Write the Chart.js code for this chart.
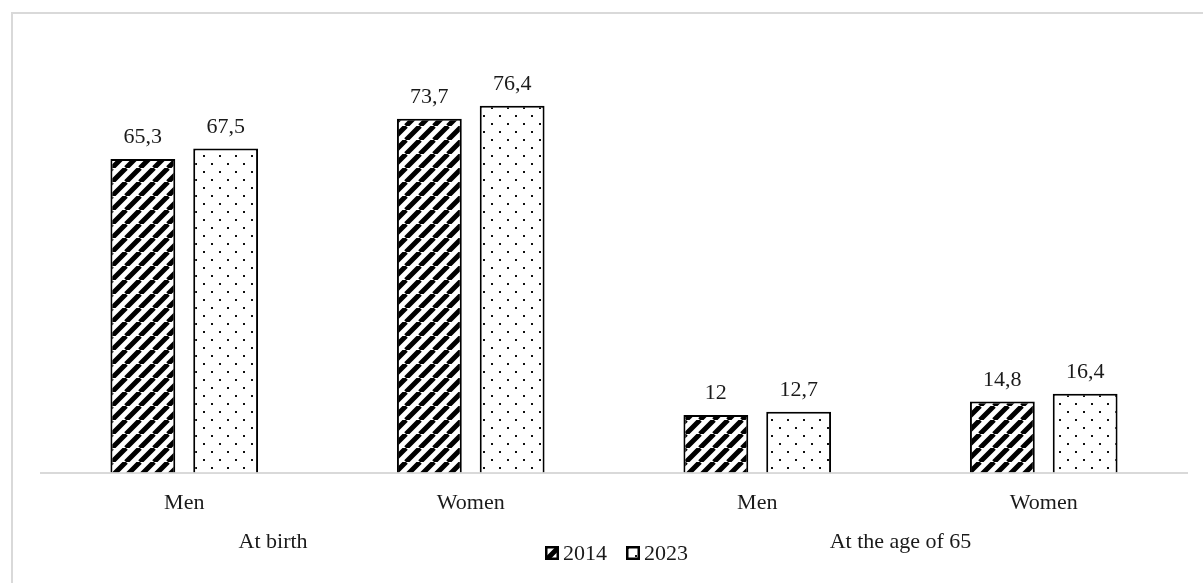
<!DOCTYPE html>
<html>
<head>
<meta charset="utf-8">
<title>Life expectancy</title>
<script src="https://cdn.jsdelivr.net/npm/chart.js@4.4.1/dist/chart.umd.min.js"></script>
<style>
  html, body { margin: 0; padding: 0; background: #fff; overflow: hidden; }
  #wrap { position: relative; width: 1203px; height: 583px; }
  #frame { position: absolute; left: 11px; top: 12px; width: 1300px; height: 700px;
           border-left: 2px solid #d9d9d9; border-top: 2px solid #d9d9d9;
           box-sizing: border-box; pointer-events: none; }
  canvas { position: absolute; left: 0; top: 0; }
</style>
</head>
<body>
<div id="wrap">
  <canvas id="c" width="1203" height="583"></canvas>
  <div id="frame"></div>
</div>
<script>
// Data
const categories = ['Men', 'Women', 'Men', 'Women'];
const groups = ['At birth', 'At the age of 65'];
const years = ['2014', '2023'];
const values2014 = [65.3, 73.7, 12, 14.8];
const values2023 = [67.5, 76.4, 12.7, 16.4];

const FONT = '"Liberation Serif", "Times New Roman", serif';
const TEXT = '#1a1a1a';

// Diagonal hatch fill
function stripePattern() {
  const s = 14;
  const c = document.createElement('canvas');
  c.width = s; c.height = s;
  const g = c.getContext('2d');
  g.fillStyle = '#fff';
  g.fillRect(0, 0, s, s);
  g.strokeStyle = '#000';
  g.lineWidth = 5;
  g.beginPath();
  for (let k = -1; k <= 1; k++) {
    g.moveTo(k * s, s);
    g.lineTo(k * s + s, 0);
  }
  g.stroke();
  return g.createPattern(c, 'repeat');
}

// Sparse dotted fill
function dotPattern() {
  const s = 16;
  const c = document.createElement('canvas');
  c.width = s; c.height = s;
  const g = c.getContext('2d');
  g.fillStyle = '#fff';
  g.fillRect(0, 0, s, s);
  g.fillStyle = '#111';
  g.fillRect(3, 3, 2, 2);
  g.fillRect(11, 11, 2, 2);
  return g.createPattern(c, 'repeat');
}

const fills = [stripePattern(), dotPattern()];

function fmt(v) { return String(v).replace('.', ','); }

// Value labels above each bar
const valueLabels = {
  id: 'valueLabels',
  afterDatasetsDraw(chart) {
    const ctx = chart.ctx;
    ctx.save();
    ctx.font = '22px ' + FONT;
    ctx.fillStyle = TEXT;
    ctx.textAlign = 'center';
    ctx.textBaseline = 'alphabetic';
    chart.data.datasets.forEach((ds, i) => {
      chart.getDatasetMeta(i).data.forEach((bar, j) => {
        ctx.fillText(fmt(ds.data[j]), bar.x, bar.y - 16);
      });
    });
    ctx.restore();
  }
};

// Group captions and legend under the axis
const footer = {
  id: 'footer',
  afterDraw(chart) {
    const ctx = chart.ctx;
    const xs = chart.scales.x;
    ctx.save();
    ctx.font = '22px ' + FONT;
    ctx.fillStyle = TEXT;
    ctx.textAlign = 'center';
    ctx.textBaseline = 'middle';
    ctx.fillText(groups[0], xs.getPixelForValue(0.31), 542);
    ctx.fillText(groups[1], xs.getPixelForValue(2.5), 542);

    // legend
    const box = 14;
    const y = 553;
    const items = [
      { x: 545, label: years[0], fill: fills[0] },
      { x: 626, label: years[1], fill: fills[1] }
    ];
    ctx.textAlign = 'left';
    items.forEach(it => {
      ctx.fillStyle = it.fill;
      ctx.fillRect(it.x, y - box / 2, box, box);
      ctx.lineWidth = 2.5;
      ctx.strokeStyle = '#000';
      ctx.strokeRect(it.x + 1.25, y - box / 2 + 1.25, box - 2.5, box - 2.5);
      ctx.fillStyle = TEXT;
      ctx.fillText(it.label, it.x + box + 4, y + 1);
    });
    ctx.restore();
  }
};

new Chart(document.getElementById('c'), {
  type: 'bar',
  data: {
    labels: categories,
    datasets: [
      { label: years[0], data: values2014, backgroundColor: fills[0],
        borderColor: '#000', borderWidth: 2 },
      { label: years[1], data: values2023, backgroundColor: fills[1],
        borderColor: '#000', borderWidth: 2 }
    ]
  },
  options: {
    responsive: false,
    animation: false,
    events: [],
    devicePixelRatio: 1,
    layout: { padding: { left: 41, right: 16, top: 53, bottom: 58 } },
    datasets: { bar: { categoryPercentage: 0.578, barPercentage: 0.783 } },
    plugins: { legend: { display: false }, tooltip: { enabled: false } },
    scales: {
      x: {
        grid: { display: false },
        border: { display: true, color: '#d9d9d9', width: 2 },
        ticks: { color: TEXT, padding: 9, font: { family: FONT, size: 22 } }
      },
      y: { display: false, min: 0, max: 87.4 }
    }
  },
  plugins: [valueLabels, footer]
});
</script>
</body>
</html>
